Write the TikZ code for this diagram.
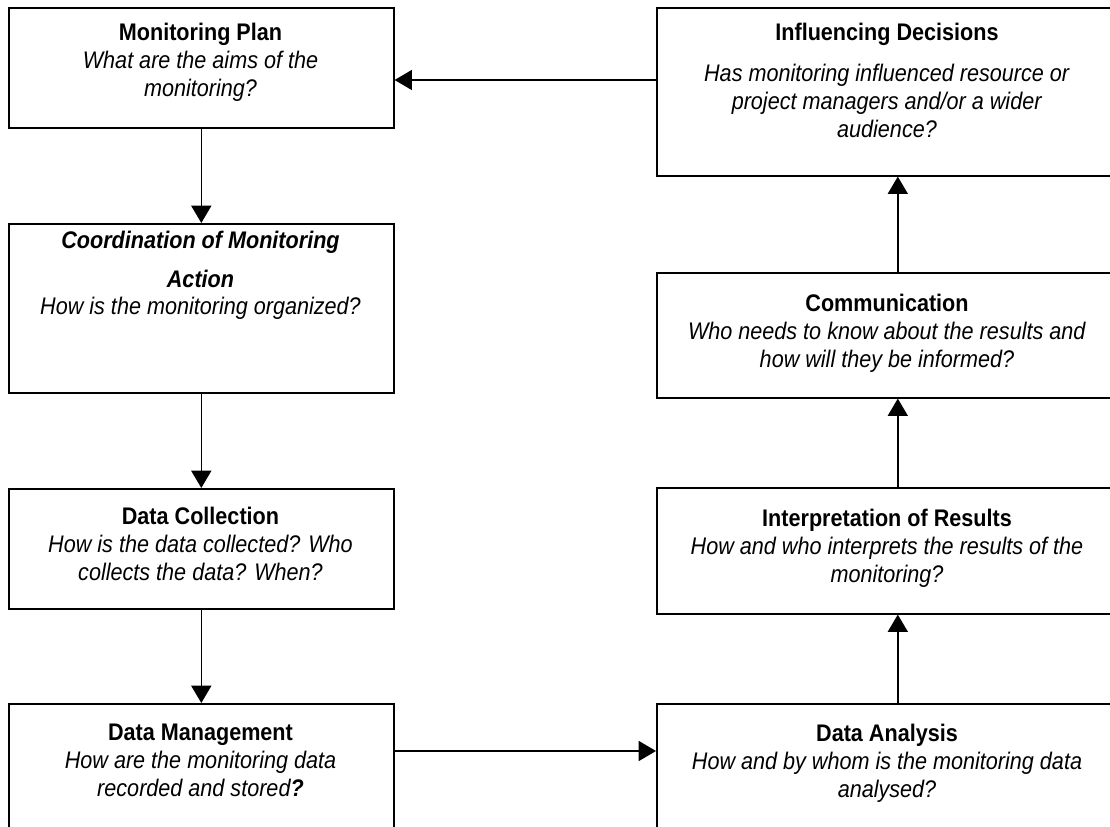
\documentclass[tikz,border=0pt]{standalone}
\usepackage{fontspec}
\setmainfont{Liberation Sans}[FakeStretch=0.9]
\usetikzlibrary{arrows.meta}

\begin{document}
\begin{tikzpicture}[x=0.75pt, y=-0.75pt,
		box/.style={draw, line width=1.2pt, inner sep=0pt, anchor=north west},
		lbox/.style={box, minimum width=288.75pt},
		rbox/.style={box, minimum width=346.5pt},
		txt/.style={align=center, inner sep=0pt, anchor=base, font=\fontsize{18}{21}\selectfont},
		arr/.style={line width=1.2pt, -{Triangle[width=15pt, length=13pt]}}]
		\clip (0, 0) rectangle (1110, 827);
		\node[lbox, minimum height=90pt] (mp) at (8, 7) {};
		\node[lbox, minimum height=126.75pt] (co) at (8, 223) {};
		\node[lbox, minimum height=90pt] (dc) at (8, 488) {};
		\node[lbox, minimum height=112.5pt] (dm) at (8, 703) {};
		\node[rbox, minimum height=126pt] (id) at (656, 7) {};
		\node[rbox, minimum height=93.75pt] (cm) at (656, 272) {};
		\node[rbox, minimum height=94.5pt] (ip) at (656, 487) {};
		\node[rbox, minimum height=112.5pt] (da) at (656, 703) {};
		\node[txt] (mp-t) at (200.5, 97) {\textbf{Monitoring Plan}\\\textit{What are the aims of the}\\\textit{monitoring?}};
		\node[txt] (co-t) at (200.5, 315) {\textbf{\textit{Coordination of Monitoring}}\\[7.5pt]\textbf{\textit{Action}}\\\textit{How is the monitoring organized?}};
		\node[txt] (dc-t) at (200.5, 580) {\textbf{Data Collection}\\\textit{How is the data collected? Who}\\\textit{collects the data? When?}};
		\node[txt] (dm-t) at (200.5, 796) {\textbf{Data Management}\\\textit{How are the monitoring data}\\\textit{recorded and stored\textbf{?}}};
		\node[txt] (id-t) at (887, 138) {\textbf{Influencing Decisions}\\[10pt]\textit{Has monitoring influenced resource or}\\\textit{project managers and/or a wider}\\\textit{audience?}};
		\node[txt] (cm-t) at (887, 367) {\textbf{Communication}\\\textit{Who needs to know about the results and}\\\textit{how will they be informed?}};
		\node[txt] (ip-t) at (887, 582) {\textbf{Interpretation of Results}\\\textit{How and who interprets the results of the}\\\textit{monitoring?}};
		\node[txt] (da-t) at (887, 797) {\textbf{Data Analysis}\\\textit{How and by whom is the monitoring data}\\\textit{analysed?}};
		\draw[arr] (mp.south) -- (co.north);
		\draw[arr] (co.south) -- (dc.north);
		\draw[arr] (dc.south) -- (dm.north);
		\draw[arr] ([yshift=-36pt]dm.north east) -- ([yshift=-36pt]da.north west);
		\draw[arr] ([xshift=7.5pt]da.north) -- ([xshift=7.5pt]ip.south);
		\draw[arr] ([xshift=7.5pt]ip.north) -- ([xshift=7.5pt]cm.south);
		\draw[arr] ([xshift=7.5pt]cm.north) -- ([xshift=7.5pt]id.south);
		\draw[arr] ([yshift=-54.75pt]id.north west) -- ([yshift=-54.75pt]mp.north east);
\end{tikzpicture}
\end{document}
